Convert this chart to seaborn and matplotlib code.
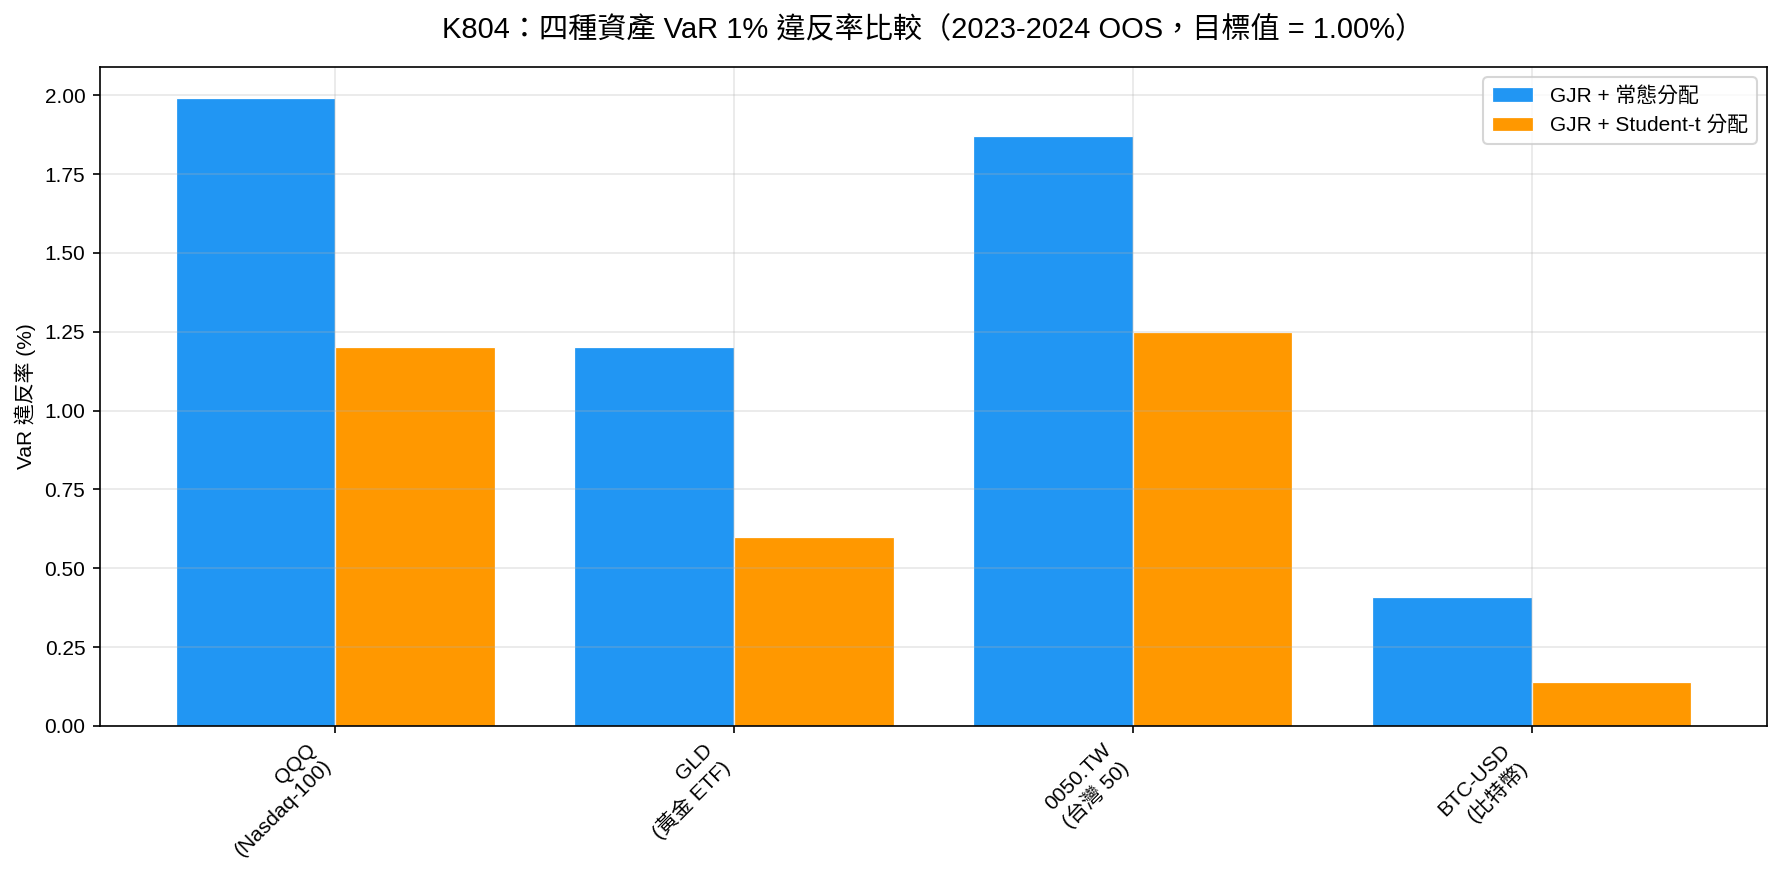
import pandas as pd
import seaborn as sns
import matplotlib.pyplot as plt

# Violation rates (%)
assets = ['QQQ\n(Nasdaq-100)', 'GLD\n(黃金 ETF)', '0050.TW\n(台灣 50)', 'BTC-USD\n(比特幣)']
series_names = ['GJR + 常態分配', 'GJR + Student-t 分配']
normal_rates = [1.99, 1.20, 1.87, 0.41]
student_rates = [1.20, 0.60, 1.25, 0.14]
colors = ['#2196F3', '#FF9800']

plt.rcParams['font.family'] = ['Liberation Sans', 'Noto Sans CJK TC', 'DejaVu Sans']
plt.rcParams['axes.unicode_minus'] = False

df = pd.DataFrame({
    'asset': assets * 2,
    'model': [series_names[0]] * len(assets) + [series_names[1]] * len(assets),
    'rate': normal_rates + student_rates,
})

fig, ax = plt.subplots(figsize=(1783 / 150, 881 / 150), dpi=150)
fig.subplots_adjust(left=0.056, right=0.991, top=0.924, bottom=0.176)

sns.barplot(data=df, x='asset', y='rate', hue='model', palette=colors,
            saturation=1, width=0.8, edgecolor='white', linewidth=0.6,
            errorbar=None, ax=ax)

ax.set_xlim(-0.59, 3.59)
ax.set_xlabel('')
ax.set_ylabel('VaR 違反率 (%)', fontsize=10)
ax.set_title('K804：四種資產 VaR 1% 違反率比較（2023-2024 OOS，目標值 = 1.00%）',
             fontsize=14, pad=14)
ax.yaxis.set_major_formatter(plt.FormatStrFormatter('%.2f'))
plt.setp(ax.get_xticklabels(), rotation=45, ha='right', fontsize=10)
plt.setp(ax.get_yticklabels(), fontsize=10)
ax.grid(True, alpha=0.3)
ax.legend(title=None, loc='upper right', fontsize=10)

plt.savefig('out.png', dpi=150)
